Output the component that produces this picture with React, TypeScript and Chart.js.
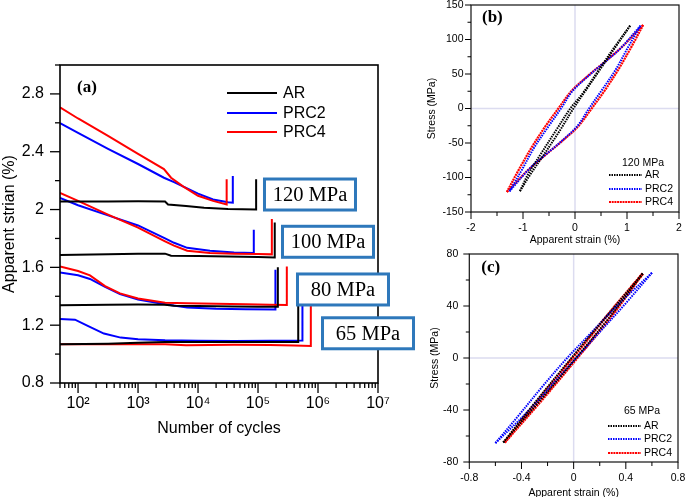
import React, { useEffect, useRef } from 'react';
import { Chart, registerables } from 'chart.js';
Chart.register(...registerables);

const SANS = "'Liberation Sans', Arial, Helvetica, sans-serif";
const SERIF = "'Liberation Serif', 'Times New Roman', serif";
Chart.defaults.color = '#000';
Chart.defaults.font.family = SANS;

// ---------------- Panel (a) ----------------
const materials = ['AR', 'PRC2', 'PRC4'];
const materialColors = ['#000000', '#0000ff', '#ff0000'];
const materialOrder = [0, 2, 1];

const aXTickValues = [1e2, 1e3, 1e4, 1e5, 1e6, 1e7];
const aXTickLabels = ['10²', '10³', '10⁴', '10⁵', '10⁶', '10⁷'];
const aYTickValues = [0.8, 1.2, 1.6, 2.0, 2.4, 2.8];
const aYTickLabels = ['0.8', '1.2', '1.6', '2', '2.4', '2.8'];
const aYMinor = [1.0, 1.4, 1.8, 2.2, 2.6, 3.0];
const aXMinor = [50, 60, 70, 80, 90].concat(
  ...[2, 3, 4, 5, 6].map((e) => [2, 3, 4, 5, 6, 7, 8, 9].map((m) => m * Math.pow(10, e)))
);

// 120 MPa
const n120AR = [50, 316, 1000, 2820, 3160, 6310, 12600, 31600, 93000, 93000];
const s120AR = [2.055, 2.055, 2.057, 2.055, 2.035, 2.025, 2.012, 2.003, 2.0, 2.21];
const n120PRC2 = [50, 100, 316, 1000, 2700, 3980, 6310, 10000, 17800, 31600, 38000, 38000];
const s120PRC2 = [2.598, 2.53, 2.42, 2.315, 2.22, 2.19, 2.15, 2.11, 2.07, 2.05, 2.047, 2.232];
const n120PRC4 = [50, 100, 316, 1000, 2700, 3550, 5620, 10000, 17800, 30000, 30000];
const s120PRC4 = [2.707, 2.63, 2.51, 2.385, 2.28, 2.22, 2.16, 2.095, 2.06, 2.035, 2.209];
// 100 MPa
const n100AR = [50, 316, 1000, 2820, 3550, 10000, 31600, 100000, 190000, 190000];
const s100AR = [1.685, 1.69, 1.695, 1.695, 1.68, 1.678, 1.675, 1.672, 1.668, 1.91];
const n100PRC2 = [50, 100, 316, 1000, 2820, 3980, 6600, 15800, 39800, 85000, 85000];
const s100PRC2 = [2.08, 2.03, 1.96, 1.89, 1.8, 1.77, 1.735, 1.715, 1.703, 1.7, 1.86];
const n100PRC4 = [50, 100, 316, 1000, 2820, 3980, 6600, 15800, 39800, 100000, 170000, 170000];
const s100PRC4 = [2.115, 2.06, 1.965, 1.875, 1.78, 1.75, 1.715, 1.7, 1.695, 1.693, 1.69, 1.935];
// 80 MPa
const n80AR = [50, 316, 1000, 2820, 3980, 10000, 39800, 100000, 214000, 214000];
const s80AR = [1.338, 1.342, 1.343, 1.342, 1.335, 1.332, 1.33, 1.328, 1.327, 1.6];
const n80PRC2 = [50, 100, 158, 282, 500, 1000, 2820, 6600, 20000, 63000, 195000, 195000];
const s80PRC2 = [1.564, 1.545, 1.52, 1.465, 1.415, 1.378, 1.345, 1.323, 1.313, 1.31, 1.309, 1.583];
const n80PRC4 = [50, 100, 158, 282, 500, 1000, 2820, 6600, 20000, 63000, 158000, 302000, 302000];
const s80PRC4 = [1.606, 1.575, 1.545, 1.47, 1.42, 1.385, 1.356, 1.352, 1.348, 1.345, 1.342, 1.339, 1.606];
// 65 MPa
const n65AR = [50, 316, 1000, 2820, 10000, 31600, 100000, 468000, 468000];
const s65AR = [1.068, 1.072, 1.078, 1.083, 1.083, 1.083, 1.083, 1.083, 1.4];
const n65PRC2 = [50, 89, 145, 270, 513, 1000, 2820, 10000, 39800, 158000, 550000, 550000];
const s65PRC2 = [1.243, 1.238, 1.195, 1.142, 1.114, 1.103, 1.096, 1.093, 1.091, 1.093, 1.094, 1.4];
const n65PRC4 = [50, 316, 1000, 2820, 6310, 39800, 158000, 398000, 759000, 759000];
const s65PRC4 = [1.068, 1.068, 1.068, 1.068, 1.062, 1.065, 1.063, 1.06, 1.056, 1.4];

const stressLabels = ['120 MPa', '100 MPa', '80 MPa', '65 MPa'];
const seriesA = [
  { m: 0, st: 0, n: n120AR, s: s120AR }, { m: 1, st: 0, n: n120PRC2, s: s120PRC2 }, { m: 2, st: 0, n: n120PRC4, s: s120PRC4 },
  { m: 0, st: 1, n: n100AR, s: s100AR }, { m: 1, st: 1, n: n100PRC2, s: s100PRC2 }, { m: 2, st: 1, n: n100PRC4, s: s100PRC4 },
  { m: 0, st: 2, n: n80AR, s: s80AR }, { m: 1, st: 2, n: n80PRC2, s: s80PRC2 }, { m: 2, st: 2, n: n80PRC4, s: s80PRC4 },
  { m: 0, st: 3, n: n65AR, s: s65AR }, { m: 1, st: 3, n: n65PRC2, s: s65PRC2 }, { m: 2, st: 3, n: n65PRC4, s: s65PRC4 },
];
// annotation anchors (left edge in cycles, vertical centre in strain)
const boxCycles = [121000, 241500, 429500, 1122000];
const boxStrain = [2.104, 1.777, 1.447, 1.144];
const BOX_BLUE = '#2e78bb';

// ---------------- Panel (b) 120 MPa loops ----------------
const bStrainAR = [1.06, 0.75, 0.45, 0.15, -0.09, -0.35, -0.65, -0.9, -1.06, -0.88, -0.6, -0.3, -0.03, 0.25, 0.55, 0.85, 1.06];
const bStressAR = [120, 88, 55, 22, 0, -30, -65, -95, -120, -98, -67, -33, 0, 31, 64, 97, 120];
const bStrainPRC2 = [1.26, 0.86, 0.55, 0.24, -0.05, -0.27, -0.52, -0.78, -1.03, -1.26, -0.86, -0.55, -0.24, 0.05, 0.27, 0.52, 0.78, 1.03, 1.26];
const bStressPRC2 = [120, 86, 66, 46, 25, 0, -27, -56, -90, -120, -86, -66, -46, -25, 0, 27, 56, 90, 120];
const bStrainPRC4 = [1.31, 0.9, 0.58, 0.26, -0.06, -0.32, -0.58, -0.83, -1.09, -1.31, -0.9, -0.58, -0.26, 0.06, 0.32, 0.58, 0.83, 1.09, 1.31];
const bStressPRC4 = [121, 89, 68, 48, 26, 0, -27, -56, -90, -121, -89, -68, -48, -26, 0, 27, 56, 90, 121];
const bXTicks = [-2, -1, 0, 1, 2];
const bXTickLabels = ['-2', '-1', '0', '1', '2'];
const bXMinor = [-1.5, -0.5, 0.5, 1.5];
const bYTicks = [-150, -100, -50, 0, 50, 100, 150];
const bYTickLabels = ['-150', '-100', '-50', '0', '50', '100', '150'];
const bYMinor = [-125, -75, -25, 25, 75, 125];

// ---------------- Panel (c) 65 MPa loops ----------------
const cStrainAR = [0.53, 0.26, 0.0, -0.27, -0.54, -0.26, 0.01, 0.28, 0.53];
const cStressAR = [65, 33, 2, -31, -65, -33, -1, 32, 65];
const cStrainPRC2 = [0.6, 0.33, 0.14, -0.05, -0.24, -0.42, -0.6, -0.36, -0.17, 0.02, 0.2, 0.39, 0.6];
const cStressPRC2 = [65.5, 40, 20, 0, -22, -44, -65.5, -42, -21, 0, 20, 41, 65.5];
const cStrainPRC4 = [0.53, 0.26, 0.0, -0.27, -0.53, -0.25, 0.01, 0.28, 0.53];
const cStressPRC4 = [65, 33, 1, -32, -65, -33, -2, 31, 65];
const cXTicks = [-0.8, -0.4, 0, 0.4, 0.8];
const cXTickLabels = ['-0.8', '-0.4', '0', '0.4', '0.8'];
const cXMinor = [-0.6, -0.2, 0.2, 0.6];
const cYTicks = [-80, -40, 0, 40, 80];
const cYTickLabels = ['-80', '-40', '0', '40', '80'];
const cYMinor = [-60, -20, 20, 60];

const zip = (xs: number[], ys: number[]) => xs.map((x, i) => ({ x, y: ys[i] }));

function drawTickMarks(chart: any, id: string, major: number[], minor: number[], majLen: number, minLen: number, width: number) {
  const sc = chart.scales[id];
  const ca = chart.chartArea;
  const ctx = chart.ctx;
  ctx.save();
  ctx.strokeStyle = '#000';
  ctx.lineWidth = width;
  const draw = (v: number, len: number) => {
    const p = sc.getPixelForValue(v);
    ctx.beginPath();
    if (sc.isHorizontal()) {
      if (p < ca.left - 0.5 || p > ca.right + 0.5) return;
      ctx.moveTo(p, ca.bottom);
      ctx.lineTo(p, ca.bottom + len);
    } else {
      if (p < ca.top - 0.5 || p > ca.bottom + 0.5) return;
      ctx.moveTo(ca.left, p);
      ctx.lineTo(ca.left - len, p);
    }
    ctx.stroke();
  };
  major.forEach((v) => draw(v, majLen));
  minor.forEach((v) => draw(v, minLen));
  ctx.restore();
}

function makeAConfig(): any {
  const datasets = seriesA.map((s) => ({
    label: materials[s.m] + ' ' + stressLabels[s.st],
    data: zip(s.n, s.s),
    borderColor: materialColors[s.m],
    backgroundColor: materialColors[s.m],
    borderWidth: 2,
    pointRadius: 0,
    tension: 0,
    fill: false,
    order: materialOrder[s.m],
  }));
  const decor = {
    id: 'decorA',
    afterDraw(chart: any) {
      const ctx = chart.ctx;
      const ca = chart.chartArea;
      ctx.save();
      ctx.strokeStyle = '#000';
      ctx.lineWidth = 1.6;
      ctx.strokeRect(ca.left, ca.top, ca.right - ca.left, ca.bottom - ca.top);
      ctx.restore();
      drawTickMarks(chart, 'x', aXTickValues, aXMinor, 10, 5, 1.3);
      drawTickMarks(chart, 'y', aYTickValues, aYMinor, 10, 5, 1.3);
      ctx.save();
      // legend
      ctx.font = '16px ' + SANS;
      ctx.textBaseline = 'middle';
      ctx.textAlign = 'left';
      const ly = [28, 48, 67];
      materials.forEach((m, i) => {
        const y = ca.top + ly[i];
        ctx.strokeStyle = materialColors[i];
        ctx.lineWidth = 1.8;
        ctx.beginPath();
        ctx.moveTo(ca.left + 167, y);
        ctx.lineTo(ca.left + 217, y);
        ctx.stroke();
        ctx.fillStyle = '#000';
        ctx.fillText(m, ca.left + 223, y + 1);
      });
      // panel label
      ctx.font = 'bold 17px ' + SERIF;
      ctx.fillText('(a)', ca.left + 17, ca.top + 23);
      // stress boxes
      const xs = chart.scales.x;
      const ys = chart.scales.y;
      ctx.font = '20.5px ' + SERIF;
      ctx.textAlign = 'center';
      stressLabels.forEach((lab, i) => {
        const x = xs.getPixelForValue(boxCycles[i]);
        const yc = ys.getPixelForValue(boxStrain[i]);
        const w = 91, h = 31;
        ctx.fillStyle = '#fff';
        ctx.fillRect(x + 1.5, yc - h / 2, w, h);
        ctx.strokeStyle = BOX_BLUE;
        ctx.lineWidth = 3;
        ctx.strokeRect(x + 1.5, yc - h / 2, w, h);
        ctx.fillStyle = '#000';
        ctx.fillText(lab, x + 1.5 + w / 2, yc + 1);
      });
      ctx.restore();
    },
  };
  return {
    type: 'line',
    data: { datasets },
    plugins: [decor],
    options: {
      animation: false,
      responsive: false,
      devicePixelRatio: 1,
      layout: { padding: { left: 0, right: 42, top: 65, bottom: 0 } },
      plugins: { legend: { display: false }, tooltip: { enabled: false } },
      scales: {
        x: {
          type: 'logarithmic',
          min: 50,
          max: 1e7,
          afterBuildTicks: (s: any) => { s.ticks = aXTickValues.map((v) => ({ value: v })); },
          afterFit: (s: any) => { s.height = 57; },
          ticks: {
            autoSkip: false, maxRotation: 0, padding: 1, color: '#000',
            font: { size: 16, family: SANS },
            callback: (_v: any, i: number) => aXTickLabels[i],
          },
          grid: { display: false, drawTicks: true, tickLength: 10 },
          border: { display: false },
          title: { display: true, text: 'Number of cycles', color: '#000', font: { size: 16, family: SANS }, padding: { top: 0, bottom: 1.4 } },
        },
        y: {
          type: 'linear',
          min: 0.8,
          max: 3.0,
          afterBuildTicks: (s: any) => { s.ticks = aYTickValues.map((v) => ({ value: v })); },
          afterFit: (s: any) => { s.width = 60; },
          ticks: {
            autoSkip: false, padding: 6, color: '#000',
            font: { size: 16, family: SANS },
            callback: (_v: any, i: number) => aYTickLabels[i],
          },
          grid: { display: false, drawTicks: true, tickLength: 10 },
          border: { display: false },
          title: { display: true, text: 'Apparent strian (%)', color: '#000', font: { size: 16, family: SANS }, padding: { top: 0, bottom: 0 } },
        },
      },
    },
  };
}

type LoopSeries = { label: string; xs: number[]; ys: number[]; color: string; dash: number[]; width: number; order: number };

function makeLoopConfig(p: any): any {
  const series: LoopSeries[] = p.series;
  const datasets: any[] = [];
  series.forEach((s) => {
    const pts = zip(s.xs, s.ys);
    // split the closed loop into its unloading and loading branches at the minimum-strain tip
    let k = 0;
    pts.forEach((pt, i) => { if (pt.x < pts[k].x) k = i; });
    [pts.slice(0, k + 1), pts.slice(k)].forEach((branch) => {
      datasets.push({
        label: s.label,
        data: branch,
        borderColor: s.color,
        backgroundColor: s.color,
        borderWidth: s.width,
        borderDash: s.dash,
        pointRadius: 0,
        tension: 0.35,
        fill: false,
        order: s.order,
      });
    });
  });
  const decor = {
    id: 'decorLoop',
    beforeDatasetsDraw(chart: any) {
      const ctx = chart.ctx;
      const ca = chart.chartArea;
      const x0 = chart.scales.x.getPixelForValue(0);
      const y0 = chart.scales.y.getPixelForValue(0);
      ctx.save();
      ctx.strokeStyle = '#dcdcf0';
      ctx.lineWidth = 1.5;
      ctx.beginPath();
      ctx.moveTo(x0, ca.top); ctx.lineTo(x0, ca.bottom);
      ctx.moveTo(ca.left, y0); ctx.lineTo(ca.right, y0);
      ctx.stroke();
      ctx.restore();
    },
    afterDraw(chart: any) {
      const ctx = chart.ctx;
      const ca = chart.chartArea;
      ctx.save();
      ctx.strokeStyle = '#111';
      ctx.lineWidth = 1.2;
      ctx.strokeRect(ca.left, ca.top, ca.right - ca.left, ca.bottom - ca.top);
      ctx.restore();
      drawTickMarks(chart, 'x', p.xTicks, p.xMinor, 7, 4, 1);
      drawTickMarks(chart, 'y', p.yTicks, p.yMinor, 6, 3.5, 1);
      ctx.save();
      ctx.font = '10.5px ' + SANS;
      ctx.fillStyle = '#000';
      ctx.textBaseline = 'middle';
      ctx.textAlign = 'center';
      ctx.fillText(p.legendTitle, ca.right - 36, ca.bottom + p.legendTitleDy);
      ctx.textAlign = 'left';
      series.forEach((s, i) => {
        const y = ca.bottom + p.legendDy[i];
        ctx.strokeStyle = s.color;
        ctx.lineWidth = 2;
        ctx.setLineDash(s.dash);
        ctx.beginPath();
        ctx.moveTo(ca.right - 70, y);
        ctx.lineTo(ca.right - 37, y);
        ctx.stroke();
        ctx.setLineDash([]);
        ctx.fillText(s.label, ca.right - 34, y + 0.5);
      });
      ctx.font = 'bold 17px ' + SERIF;
      ctx.fillText(p.panelLabel, ca.left + p.labelDx, ca.top + p.labelDy);
      ctx.restore();
    },
  };
  return {
    type: 'line',
    data: { datasets },
    plugins: [decor],
    options: {
      animation: false,
      responsive: false,
      devicePixelRatio: 1,
      layout: { padding: p.padding },
      plugins: { legend: { display: false }, tooltip: { enabled: false } },
      scales: {
        x: {
          type: 'linear',
          min: p.xTicks[0],
          max: p.xTicks[p.xTicks.length - 1],
          afterBuildTicks: (s: any) => { s.ticks = p.xTicks.map((v: number) => ({ value: v })); },
          afterFit: (s: any) => { s.height = p.xAxisHeight; },
          ticks: {
            autoSkip: false, maxRotation: 0, padding: 3, color: '#000',
            font: { size: 10.5, family: SANS },
            callback: (_v: any, i: number) => p.xTickLabels[i],
          },
          grid: { display: false, drawTicks: true, tickLength: 7 },
          border: { display: false },
          title: { display: true, text: 'Apparent strain (%)', color: '#000', font: { size: 10.5, family: SANS }, padding: { top: 0, bottom: p.xTitlePad } },
        },
        y: {
          type: 'linear',
          min: p.yTicks[0],
          max: p.yTicks[p.yTicks.length - 1],
          afterBuildTicks: (s: any) => { s.ticks = p.yTicks.map((v: number) => ({ value: v })); },
          afterFit: (s: any) => { s.width = p.yAxisWidth; },
          ticks: {
            autoSkip: false, padding: p.yTickPad, color: '#000',
            font: { size: 10.5, family: SANS },
            callback: (_v: any, i: number) => p.yTickLabels[i],
          },
          grid: { display: false, drawTicks: true, tickLength: 6 },
          border: { display: false },
          title: { display: true, text: 'Stress (MPa)', color: '#000', font: { size: 10.5, family: SANS }, padding: { top: p.yTitlePad, bottom: 0 } },
        },
      },
    },
  };
}

const DOT = [1.5, 1];
const DOT_DENSE = [2, 0.7];

function makeBConfig() {
  return makeLoopConfig({
    series: [
      { label: 'AR', xs: bStrainAR, ys: bStressAR, color: '#000000', dash: DOT, width: 2, order: 0 },
      { label: 'PRC2', xs: bStrainPRC2, ys: bStressPRC2, color: '#0000ff', dash: DOT, width: 2, order: 1 },
      { label: 'PRC4', xs: bStrainPRC4, ys: bStressPRC4, color: '#ff0000', dash: DOT_DENSE, width: 2.2, order: 2 },
    ],
    xTicks: bXTicks, xTickLabels: bXTickLabels, xMinor: bXMinor,
    yTicks: bYTicks, yTickLabels: bYTickLabels, yMinor: bYMinor,
    padding: { left: 0, right: 21, top: 15, bottom: 0 },
    xAxisHeight: 36, xTitlePad: 1.7, yAxisWidth: 51, yTitlePad: 5.7, yTickPad: 1.5,
    legendTitle: '120 MPa', legendTitleDy: -49, legendDy: [-37, -23, -10],
    panelLabel: '(b)', labelDx: 11, labelDy: 13,
  });
}

function makeCConfig() {
  return makeLoopConfig({
    series: [
      { label: 'AR', xs: cStrainAR, ys: cStressAR, color: '#000000', dash: DOT, width: 2, order: 0 },
      { label: 'PRC2', xs: cStrainPRC2, ys: cStressPRC2, color: '#0000ff', dash: DOT, width: 2, order: 1 },
      { label: 'PRC4', xs: cStrainPRC4, ys: cStressPRC4, color: '#ff0000', dash: DOT_DENSE, width: 2.8, order: 2 },
    ],
    xTicks: cXTicks, xTickLabels: cXTickLabels, xMinor: cXMinor,
    yTicks: cYTicks, yTickLabels: cYTickLabels, yMinor: cYMinor,
    padding: { left: 0, right: 22, top: 14, bottom: 0 },
    xAxisHeight: 45, xTitlePad: 7.7, yAxisWidth: 49.3, yTitlePad: 8.7, yTickPad: 5,
    legendTitle: '65 MPa', legendTitleDy: -51, legendDy: [-36, -23, -9],
    panelLabel: '(c)', labelDx: 12, labelDy: 14,
  });
}

function ChartCanvas(props: { make: () => any; left: number; top: number; width: number; height: number }) {
  const ref = useRef<HTMLCanvasElement | null>(null);
  useEffect(() => {
    const chart = new Chart(ref.current as HTMLCanvasElement, props.make());
    return () => chart.destroy();
  }, []);
  return (
    <canvas
      ref={ref}
      width={props.width}
      height={props.height}
      style={{ position: 'absolute', left: props.left, top: props.top, width: props.width, height: props.height }}
    />
  );
}

export default function App() {
  return (
    <div style={{ position: 'absolute', left: 0, top: 0, width: 685, height: 497, overflow: 'hidden', background: '#fff' }}>
      <ChartCanvas make={makeAConfig} left={0} top={0} width={420} height={440} />
      <ChartCanvas make={makeBConfig} left={420} top={-10} width={280} height={258} />
      <ChartCanvas make={makeCConfig} left={420} top={240} width={280} height={267} />
    </div>
  );
}
